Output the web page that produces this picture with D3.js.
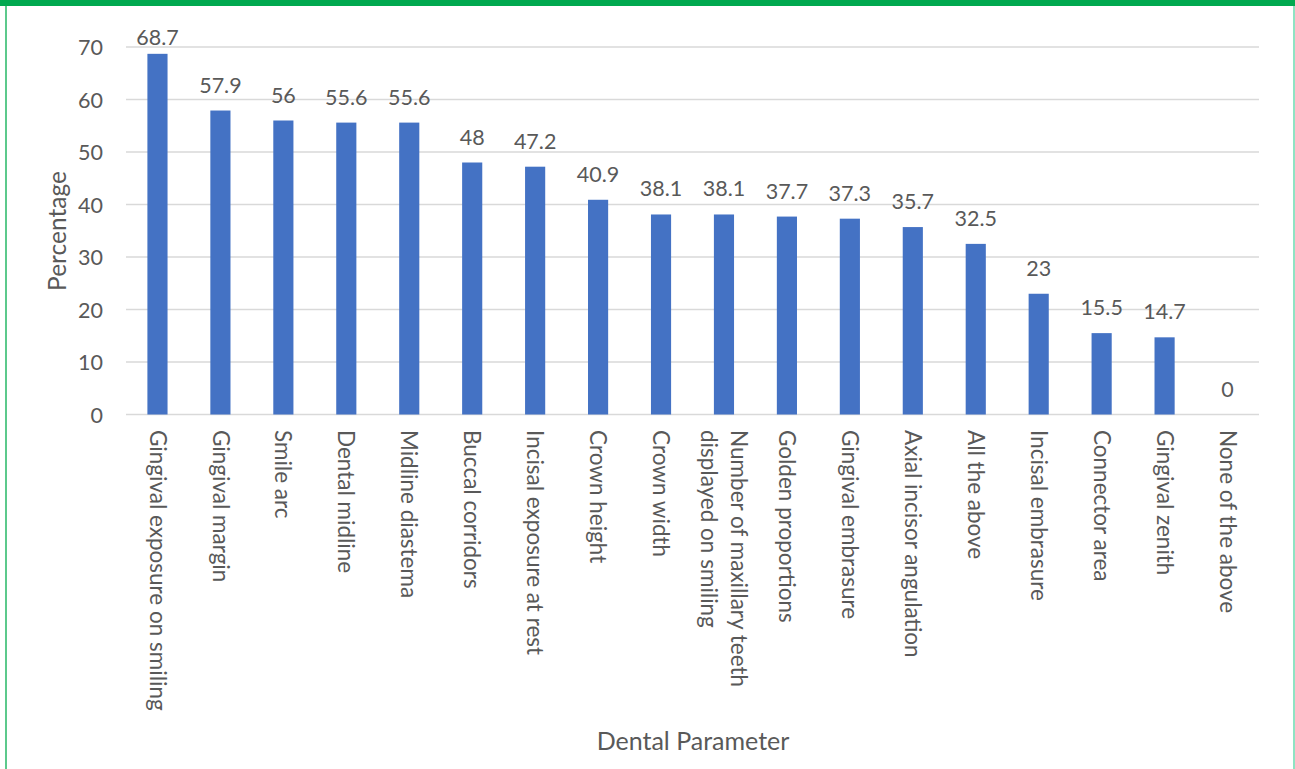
<!DOCTYPE html>
<html><head><meta charset="utf-8">
<script src="https://cdn.jsdelivr.net/npm/d3@7/dist/d3.min.js"></script>
<style>
html,body{margin:0;padding:0;background:#fff;}
svg{display:block;}
text{font-family:Lato,"Open Sans",sans-serif;fill:#595959;}
</style></head>
<body><svg id="c" width="1295" height="769"></svg>
<script>
const categories = [
  ["Gingival exposure on smiling"],
  ["Gingival margin"],
  ["Smile arc"],
  ["Dental midline"],
  ["Midline diastema"],
  ["Buccal corridors"],
  ["Incisal exposure at rest"],
  ["Crown height"],
  ["Crown width"],
  ["Number of maxillary teeth", "displayed on smiling"],
  ["Golden proportions"],
  ["Gingival embrasure"],
  ["Axial incisor angulation"],
  ["All the above"],
  ["Incisal embrasure"],
  ["Connector area"],
  ["Gingival zenith"],
  ["None of the above"]
];
const values = [68.7, 57.9, 56, 55.6, 55.6, 48, 47.2, 40.9, 38.1, 38.1, 37.7, 37.3, 35.7, 32.5, 23, 15.5, 14.7, 0];
const yTicks = [0, 10, 20, 30, 40, 50, 60, 70];
const yTitle = "Percentage";
const xTitle = "Dental Parameter";

const svg = d3.select("#c");
const W = 1295, H = 769;
const pLeft = 126, pRight = 1259, pTop = 47, pBottom = 414.5;

// frame
svg.append("rect").attr("x",0).attr("y",0).attr("width",W).attr("height",6).attr("fill","#00A94F");
svg.append("rect").attr("x",5).attr("y",6).attr("width",2).attr("height",H-6).attr("fill","#5CC98C");
svg.append("rect").attr("x",1293).attr("y",6).attr("width",2).attr("height",H-6).attr("fill","#8FE3C3");

const x = d3.scaleBand().domain(d3.range(categories.length)).range([pLeft, pRight]).paddingInner(0.68).paddingOuter(0.34);
const y = d3.scaleLinear().domain([0, 70]).range([pBottom, pTop]);

// gridlines
svg.append("g").selectAll("line").data(yTicks).join("line")
  .attr("x1", pLeft).attr("x2", pRight)
  .attr("y1", d => y(d)).attr("y2", d => y(d))
  .attr("stroke", "#D9D9D9").attr("stroke-width", 1.5);

// y axis labels
const yAxis = d3.axisLeft(y).tickValues(yTicks).tickSize(0).tickPadding(0);
const ga = svg.append("g").attr("transform", `translate(103,0)`).call(yAxis);
ga.select(".domain").remove();
ga.selectAll("text").attr("font-size", 21.5).attr("fill", "#595959").attr("dy", "0.35em")
  .style("font-family", "Lato, 'Open Sans', sans-serif");

// bars
svg.append("g").selectAll("rect").data(values).join("rect")
  .attr("x", (d,i) => x(i)).attr("width", x.bandwidth())
  .attr("y", d => y(d)).attr("height", d => y(0) - y(d))
  .attr("fill", "#4472C4");

// data labels (clamped to stay inside the chart area)
svg.append("g").selectAll("text").data(values).join("text")
  .attr("x", (d,i) => x(i) + x.bandwidth()/2)
  .attr("y", d => Math.max(y(d) - 18, 45))
  .attr("text-anchor", "middle").attr("font-size", 21.5)
  .text(d => d);

// category labels
const cg = svg.append("g").selectAll("g").data(categories).join("g")
  .attr("transform", (d,i) => `translate(${x(i) + x.bandwidth()/2},430) rotate(90)`);
cg.each(function(lines){
  const g = d3.select(this);
  const n = lines.length;
  lines.forEach((ln, k) => {
    const off = (k - (n-1)/2) * 30;
    g.append("text").attr("x", 0).attr("y", off).attr("dy", "0.35em")
      .attr("text-anchor", "start").attr("font-size", 22.5).text(ln);
  });
});

// axis titles
svg.append("text").attr("transform", "translate(57,231) rotate(-90)")
  .attr("text-anchor", "middle").attr("dy", "0.35em").attr("font-size", 24.5).text(yTitle);
svg.append("text").attr("x", 693).attr("y", 741).attr("dy", "0.35em")
  .attr("text-anchor", "middle").attr("font-size", 25).text(xTitle);
</script></body></html>
